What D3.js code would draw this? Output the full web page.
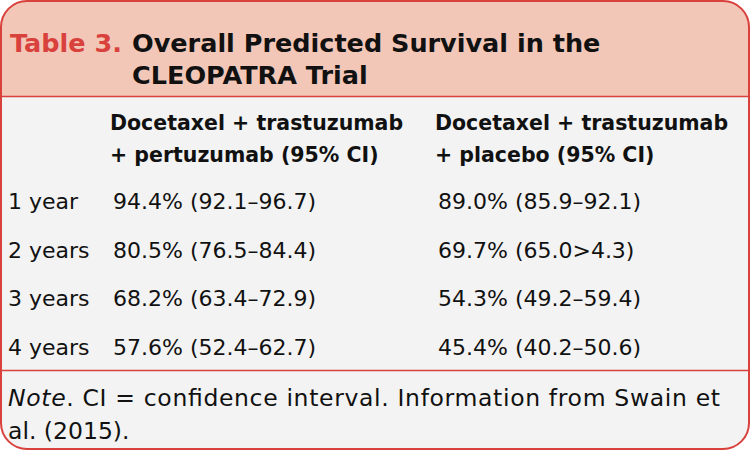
<!DOCTYPE html>
<html>
<head>
<meta charset="utf-8">
<script src="https://cdn.jsdelivr.net/npm/d3@7"></script>
<style>
  body { margin: 0; background: #fff; }
  text { font-family: "DejaVu Sans", sans-serif; fill: #111; }
  .title { font-size: 25.5px; font-weight: 700; }
  .head { font-size: 20.5px; font-weight: 700; }
  .cell { font-size: 22px; }
  .note { font-size: 23.5px; }
</style>
</head>
<body>
<div id="table"></div>
<script>
var titleLabel = "Table 3.";
var titleLines = ["Overall Predicted Survival in the", "CLEOPATRA Trial"];
var columnHeaders = [["Docetaxel + trastuzumab", "+ pertuzumab (95% CI)"],
                     ["Docetaxel + trastuzumab", "+ placebo (95% CI)"]];
var years = ["1 year", "2 years", "3 years", "4 years"];
var armPertuzumab = ["94.4% (92.1\u201396.7)", "80.5% (76.5\u201384.4)", "68.2% (63.4\u201372.9)", "57.6% (52.4\u201362.7)"];
var armPlacebo = ["89.0% (85.9\u201392.1)", "69.7% (65.0>4.3)", "54.3% (49.2\u201359.4)", "45.4% (40.2\u201350.6)"];
var noteLines = ["CI = confidence interval. Information from Swain et", "al. (2015)."];

function main() {
    var width = 750, height = 450;
    var red = "#d8413c";
    var svg = d3.select("#table").append("svg")
                .attr("width", width).attr("height", height);

    // clip for rounded box
    svg.append("clipPath").attr("id", "box")
        .append("rect").attr("x", 1).attr("y", 1)
        .attr("width", width - 2).attr("height", height - 2).attr("rx", 26);

    var g = svg.append("g").attr("clip-path", "url(#box)");
    g.append("rect").attr("width", width).attr("height", height).attr("fill", "#f3f3f3");
    g.append("rect").attr("width", width).attr("height", 96).attr("fill", "#f3c7b8");

    svg.append("line").attr("x1", 0).attr("x2", width).attr("y1", 96.5).attr("y2", 96.5)
        .attr("stroke", red).attr("stroke-width", 1.5);
    svg.append("line").attr("x1", 0).attr("x2", width).attr("y1", 370.5).attr("y2", 370.5)
        .attr("stroke", red).attr("stroke-width", 1.5);
    svg.append("rect").attr("x", 1).attr("y", 1)
        .attr("width", width - 2).attr("height", height - 2).attr("rx", 26)
        .attr("fill", "none").attr("stroke", red).attr("stroke-width", 2);

    // title
    svg.append("text").attr("class", "title").attr("x", 10).attr("y", 52)
        .style("fill", red).text(titleLabel);
    svg.selectAll(".tline").data(titleLines).enter().append("text")
        .attr("class", "title").attr("x", 132)
        .attr("y", function(d, i) { return 52 + i * 32; })
        .text(function(d) { return d; });

    // columns
    var colX = d3.scaleOrdinal().domain([0, 1, 2]).range([8, 113, 438]);
    var heads = svg.selectAll(".heads").data(columnHeaders).enter().append("g");
    heads.each(function(lines, c) {
        d3.select(this).selectAll("text").data(lines).enter().append("text")
            .attr("class", "head").attr("x", colX(c + 1) - 3)
            .attr("y", function(d, i) { return 130 + i * 32; })
            .text(function(d) { return d; });
    });

    var y = d3.scaleBand().domain(years).range([178, 372]);
    var rows = svg.selectAll(".row").data(years).enter().append("g")
        .attr("transform", function(d) { return "translate(0," + (y(d) + y.bandwidth() / 2 + 7) + ")"; });
    rows.append("text").attr("class", "cell").attr("x", colX(0)).text(function(d) { return d; });
    rows.append("text").attr("class", "cell").attr("x", colX(1)).text(function(d, i) { return armPertuzumab[i]; });
    rows.append("text").attr("class", "cell").attr("x", colX(2)).text(function(d, i) { return armPlacebo[i]; });

    // note
    var note = svg.append("text").attr("class", "note").attr("x", 8).attr("y", 406)
        .attr("textLength", 712).attr("lengthAdjust", "spacing");
    note.append("tspan").style("font-style", "italic").text("Note");
    note.append("tspan").text(". " + noteLines[0]);
    svg.append("text").attr("class", "note").attr("x", 8).attr("y", 439)
        .text(noteLines[1]);
}
main();
</script>
</body>
</html>
